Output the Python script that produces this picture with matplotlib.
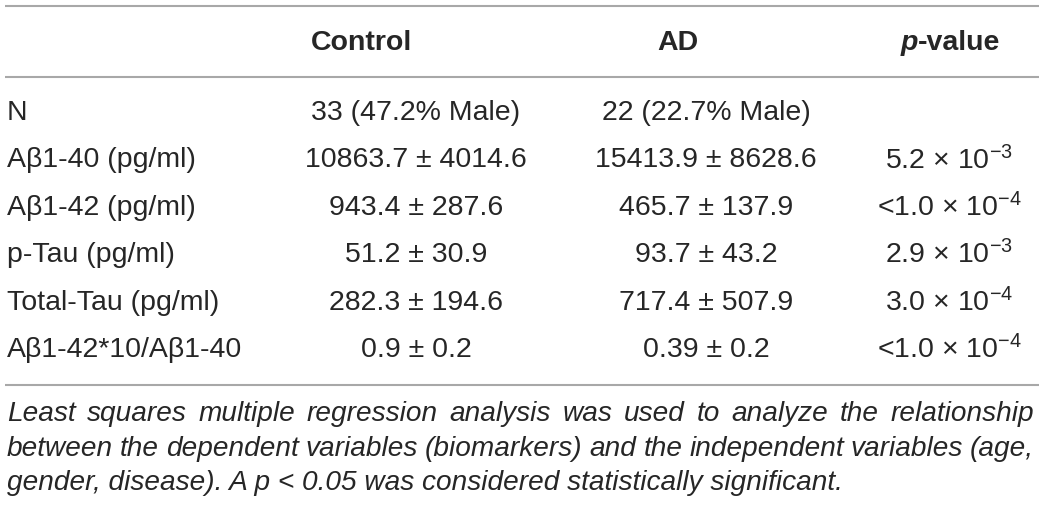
import matplotlib
matplotlib.use("Agg")
import matplotlib.pyplot as plt

plt.rcParams['font.family'] = ['Liberation Sans', 'DejaVu Sans']
plt.rcParams['mathtext.fontset'] = 'custom'
plt.rcParams['mathtext.rm'] = 'Liberation Sans'
plt.rcParams['mathtext.it'] = 'Liberation Sans:italic'
plt.rcParams['mathtext.bf'] = 'Liberation Sans:bold'

# ---- data ----
columns = ["Control", "AD", "p-value"]
row_labels = ["N", "Aβ1-40 (pg/ml)", "Aβ1-42 (pg/ml)", "p-Tau (pg/ml)",
              "Total-Tau (pg/ml)", "Aβ1-42*10/Aβ1-40"]
control_vals = ["33 (47.2% Male)", "10863.7 ± 4014.6", "943.4 ± 287.6",
                "51.2 ± 30.9", "282.3 ± 194.6", "0.9 ± 0.2"]
ad_vals = ["22 (22.7% Male)", "15413.9 ± 8628.6", "465.7 ± 137.9",
           "93.7 ± 43.2", "717.4 ± 507.9", "0.39 ± 0.2"]
p_vals = ["", "5.2 × 10$^{-3}$", "<1.0 × 10$^{-4}$", "2.9 × 10$^{-3}$",
          "3.0 × 10$^{-4}$", "<1.0 × 10$^{-4}$"]
footnote_lines = [
    "Least squares multiple regression analysis was used to analyze the relationship",
    "between the dependent variables (biomarkers) and the independent variables (age,",
    "gender, disease). A p < 0.05 was considered statistically significant.",
]

W, H = 1040, 508
fig = plt.figure(figsize=(W / 100, H / 100), dpi=100)
ax = fig.add_axes([0, 0, 1, 1])
ax.set_xlim(0, W)
ax.set_ylim(H, 0)
ax.axis('off')

TXT = '#262626'
RULE = '#a8a8a8'
FS = 20.5
FFS = 20.2

# rules
for yy in (6, 77, 385):
    ax.plot([5, 1039], [yy, yy], color=RULE, lw=1.5, solid_capstyle='butt')

# header
head_y = 43
ax.text(362, head_y, columns[0], ha='center', va='center', fontsize=FS,
        fontweight='bold', color=TXT)
ax.text(678, head_y, columns[1], ha='center', va='center', fontsize=FS,
        fontweight='bold', color=TXT)
fig.canvas.draw()
renderer = fig.canvas.get_renderer()
tp = ax.text(0, head_y, "p", ha='left', va='center', fontsize=FS,
             fontweight='bold', style='italic', color=TXT)
tv = ax.text(0, head_y, "-value", ha='left', va='center', fontsize=FS,
             fontweight='bold', color=TXT)
wp = tp.get_window_extent(renderer).width
wv = tv.get_window_extent(renderer).width
xstart = 950 - (wp + wv) / 2
tp.set_x(xstart)
tv.set_x(xstart + wp)

# rows
row_y0 = 113
row_dy = 47.4
for i, lab in enumerate(row_labels):
    y = row_y0 + i * row_dy
    ax.text(7, y, lab, ha='left', va='center', fontsize=FS, color=TXT)
    ax.text(416, y, control_vals[i], ha='center', va='center', fontsize=FS, color=TXT)
    ax.text(706, y, ad_vals[i], ha='center', va='center', fontsize=FS, color=TXT)
    if p_vals[i]:
        ax.text(949, y, p_vals[i], ha='center', va='center', fontsize=FS, color=TXT)

# footnote (justified)
fy0 = 414
fdy = 34.5
x0, x1 = 7, 1034
for li, line in enumerate(footnote_lines):
    y = fy0 + li * fdy
    words = line.split(' ')
    if li < len(footnote_lines) - 1:
        objs = []
        widths = []
        for w in words:
            t = ax.text(0, y, w, ha='left', va='center', fontsize=FFS,
                        style='italic', color=TXT)
            objs.append(t)
            widths.append(t.get_window_extent(renderer).width)
        gap = (x1 - x0 - sum(widths)) / (len(words) - 1)
        x = x0
        for t, wd in zip(objs, widths):
            t.set_x(x)
            x += wd + gap
    else:
        ax.text(x0, y, line, ha='left', va='center', fontsize=FFS,
                style='italic', color=TXT)

fig.savefig('out.png', dpi=100)
